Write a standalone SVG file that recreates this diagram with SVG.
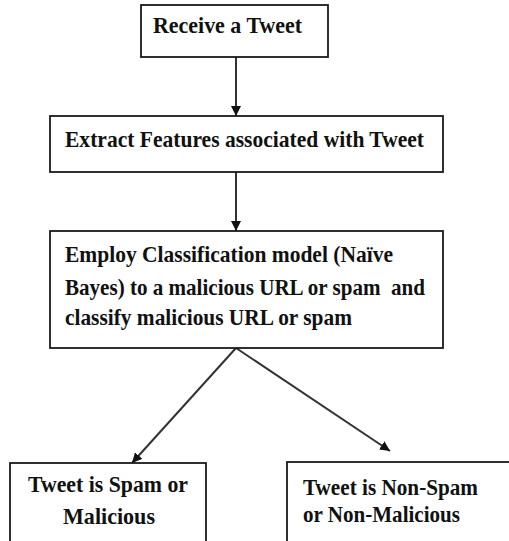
<svg xmlns="http://www.w3.org/2000/svg" width="509" height="541" viewBox="0 0 509 541">
<style>
.box{fill:#fff;stroke:#1a1a1a;stroke-width:1.8}
.t{font-family:"Liberation Serif","Times New Roman",serif;font-weight:bold;font-size:23px;fill:#111}
.c{stroke:#333;stroke-width:2;fill:none;marker-end:url(#ah)}
</style>
<defs>
<marker id="ah" viewBox="0 0 10 10" refX="10" refY="5" markerWidth="5" markerHeight="5" orient="auto" markerUnits="strokeWidth">
<path d="M0,0 L10,5 L0,10 z" fill="#111"/>
</marker>
</defs>
<rect width="509" height="541" fill="#fff"/>
<g id="connectors">
<line class="c" x1="236" y1="57" x2="236" y2="116"/>
<line class="c" x1="236" y1="172" x2="236" y2="231"/>
<line class="c" x1="236" y1="348" x2="132" y2="463"/>
<line class="c" x1="236" y1="348" x2="390" y2="451"/>
</g>
<g id="n1">
<rect class="box" x="141" y="5" width="187" height="52"/>
<text class="t" x="153" y="33" textLength="149" lengthAdjust="spacingAndGlyphs">Receive a Tweet</text>
</g>
<g id="n2">
<rect class="box" x="50" y="116" width="393" height="56"/>
<text class="t" x="65" y="147" textLength="359" lengthAdjust="spacingAndGlyphs">Extract Features associated with Tweet</text>
</g>
<g id="n3">
<rect class="box" x="50" y="231" width="393" height="117"/>
<text class="t" x="65" y="262" textLength="328" lengthAdjust="spacingAndGlyphs">Employ Classification model (Naïve</text>
<text class="t" x="65" y="295" textLength="360" lengthAdjust="spacingAndGlyphs" xml:space="preserve">Bayes) to a malicious URL or spam  and</text>
<text class="t" x="65" y="325" textLength="287" lengthAdjust="spacingAndGlyphs">classify malicious URL or spam</text>
</g>
<g id="n4">
<rect class="box" x="10" y="463" width="196" height="85"/>
<text class="t" x="28" y="492" textLength="160" lengthAdjust="spacingAndGlyphs">Tweet is Spam or</text>
<text class="t" x="63" y="524" textLength="92" lengthAdjust="spacingAndGlyphs">Malicious</text>
</g>
<g id="n5">
<rect class="box" x="287" y="462" width="230" height="86"/>
<text class="t" x="303" y="495" textLength="175" lengthAdjust="spacingAndGlyphs">Tweet is Non-Spam</text>
<text class="t" x="303" y="522" textLength="157" lengthAdjust="spacingAndGlyphs">or Non-Malicious</text>
</g>
</svg>
